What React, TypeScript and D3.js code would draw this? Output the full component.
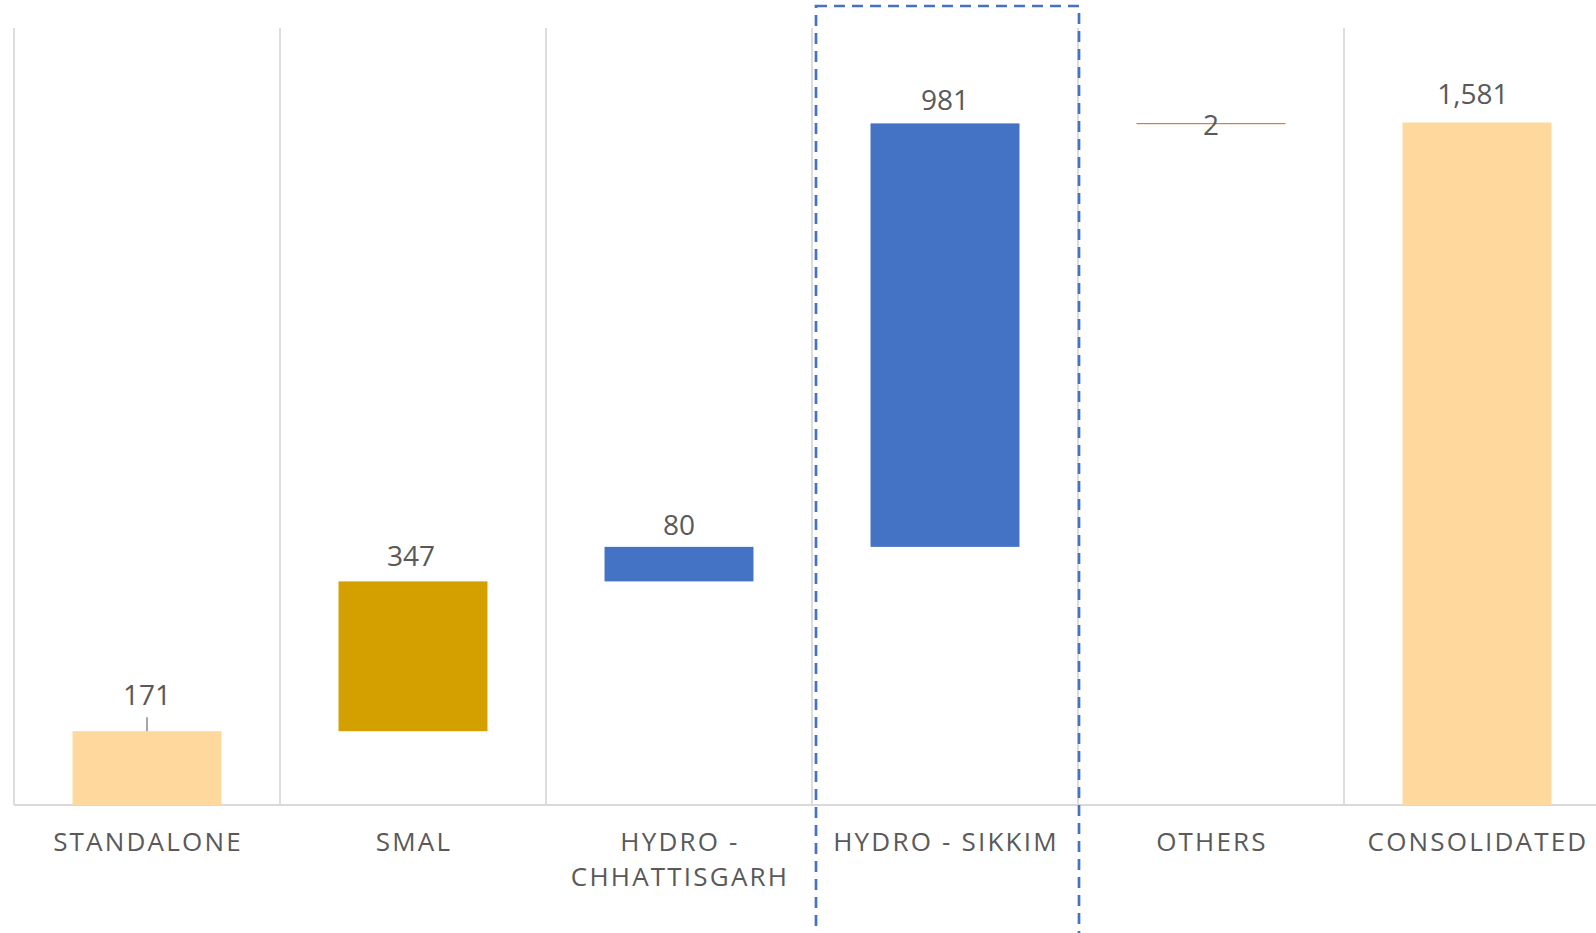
import React from "react";
import * as d3 from "d3";

const categories = ["STANDALONE", "SMAL", "HYDRO - CHHATTISGARH", "HYDRO - SIKKIM", "OTHERS", "CONSOLIDATED"];
const labelLines = [["STANDALONE"], ["SMAL"], ["HYDRO -", "CHHATTISGARH"], ["HYDRO - SIKKIM"], ["OTHERS"], ["CONSOLIDATED"]];
const values = [171, 347, 80, 981, 2, 1581];
const kinds = ["total", "step", "step", "step", "step", "total"];
const yTicks = [0, 1800];

const colors = ["#FED89D", "#D4A000", "#4472C4", "#4472C4", "#E8782F", "#FED89D"];
const labelGap = [26, 15, 12, 13, -12, 19];
const labelShift = [0, -2, 0, 0, 0, -4];

const W = 1596;
const H = 933;
const TEXT = "#595959";
const GRID = "#D9D9D9";
const FONT = "'Open Sans', sans-serif";

export default function App() {
  const x = d3.scaleBand<string>().domain(categories).range([14, 1610]).paddingInner(0).paddingOuter(0);
  const y = d3.scaleLinear().domain([yTicks[0], yTicks[1]]).range([805, 28]);
  const bw = x.bandwidth() * 0.56;

  let run = 0;
  const bars = values.map((v, i) => {
    let lo: number, hi: number;
    if (kinds[i] === "total") {
      lo = 0;
      hi = v;
      run = v;
    } else {
      lo = run;
      hi = run + v;
      run = hi;
    }
    return { cat: categories[i], lo, hi, v, i };
  });

  const fmt = d3.format(",");
  const hl = categories[3];

  return (
    <svg width={W} height={H} style={{ position: "absolute", left: 0, top: 0, display: "block" }} fontFamily={FONT}>
      <rect x={0} y={0} width={W} height={H} fill="#fff" />
      {categories.map((c) => (
        <line key={"g" + c} x1={x(c)!} x2={x(c)!} y1={y(yTicks[1])} y2={y(0)} stroke={GRID} strokeWidth={1.75} />
      ))}
      <line x1={x(categories[0])!} x2={W} y1={y(0)} y2={y(0)} stroke={GRID} strokeWidth={2} />
      {bars.map((b) => {
        const cx = x(b.cat)! + x.bandwidth() / 2;
        const top = y(b.hi);
        const bottom = y(b.lo);
        const thin = bottom - top < 2;
        const ry = thin ? Math.round((top + bottom) / 2) : top;
        const h = thin ? 1.2 : bottom - top;
        return (
          <g key={b.cat}>
            <rect x={cx - bw / 2} y={ry} width={bw} height={h} fill={colors[b.i]} />
            <text
              x={cx + labelShift[b.i]}
              y={top - labelGap[b.i]}
              textAnchor="middle"
              fontSize={28}
              fill={TEXT}
            >
              {fmt(b.v)}
            </text>
            {b.i === 0 && (
              <line x1={cx} x2={cx} y1={top - 14} y2={top} stroke="#A6A6A6" strokeWidth={2} />
            )}
          </g>
        );
      })}
      {categories.map((c, i) => {
        const cx = x(c)! + x.bandwidth() / 2;
        return (
          <text key={"l" + c} textAnchor="middle" fontSize={26} fill={TEXT} letterSpacing={2.2}>
            {labelLines[i].map((ln, j) => (
              <tspan key={j} x={cx + 1} y={851 + j * 35}>
                {ln}
              </tspan>
            ))}
          </text>
        );
      })}
      <rect
        x={x(hl)! + 4}
        y={6}
        width={x.bandwidth() - 3}
        height={H + 20}
        fill="none"
        stroke="#4472C4"
        strokeWidth={2.7}
        strokeDasharray="11 7"
      />
    </svg>
  );
}
